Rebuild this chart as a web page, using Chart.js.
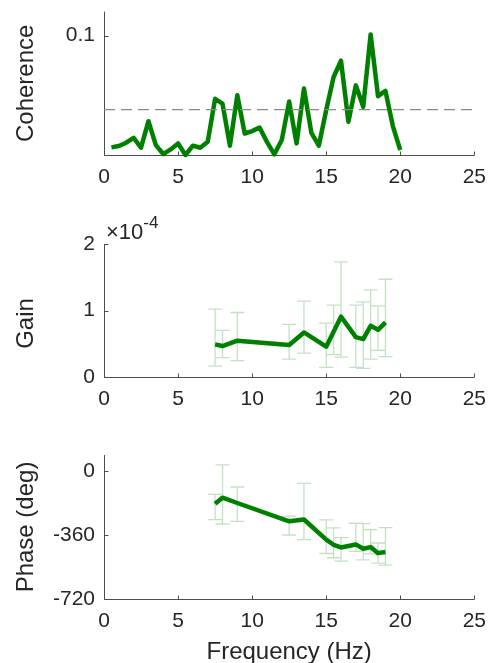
<!DOCTYPE html>
<html><head><meta charset="utf-8">
<script src="https://cdn.jsdelivr.net/npm/chart.js@4"></script>
<style>
html,body{margin:0;padding:0;background:#fff;width:496px;height:663px;overflow:hidden;position:relative}
canvas{position:absolute;left:0}
</style></head><body>
<canvas id="c1" width="496" height="210" style="top:-10px"></canvas>
<canvas id="c2" width="496" height="220" style="top:200px"></canvas>
<canvas id="c3" width="496" height="247" style="top:420px"></canvas>
<script>
// ---------- data ----------
const freqAll = [0.5,1,1.5,2,2.5,3,3.5,4,4.5,5,5.5,6,6.5,7,7.5,8,8.5,9,9.5,10,
                 10.5,11,11.5,12,12.5,13,13.5,14,14.5,15,15.5,16,16.5,17,17.5,18,18.5,19,19.5,20];
const coherence = [0.0064,0.0075,0.0103,0.0144,0.0061,0.0283,0.0083,0.0008,0.0047,0.0097,
                   0.0000,0.0078,0.0061,0.0110,0.0470,0.0430,0.0078,0.0500,0.0180,0.0200,
                   0.0230,0.0110,0.0006,0.0125,0.0447,0.0097,0.0556,0.0186,0.0078,0.0375,
                   0.0653,0.0789,0.0278,0.0583,0.0403,0.1008,0.0492,0.0536,0.0242,0.0042];
const coherenceThreshold = 0.038;

const freqSig   = [7.5, 8, 9, 12.5, 13.5, 15, 15.5, 16, 17, 17.5, 18, 18.5, 19];
const gain      = [0.49e-4,0.466e-4,0.546e-4,0.48e-4,0.67e-4,0.456e-4,0.68e-4,0.907e-4,0.60e-4,0.57e-4,0.77e-4,0.71e-4,0.82e-4];
const gainLower = [0.165e-4,0.29e-4,0.245e-4,0.27e-4,0.36e-4,0.145e-4,0.335e-4,0.30e-4,0.145e-4,0.13e-4,0.27e-4,0.40e-4,0.305e-4];
const gainUpper = [1.02e-4,0.70e-4,0.97e-4,0.79e-4,1.14e-4,0.81e-4,1.08e-4,1.73e-4,1.08e-4,1.13e-4,1.31e-4,1.07e-4,1.47e-4];
const phase      = [-184,-150,-180,-283,-273,-386,-415,-430,-413,-437,-428,-462,-456];
const phaseLower = [-273,-298,-283,-360,-386,-464,-488,-507,-452,-500,-466,-518,-530];
const phaseUpper = [-132,34,-90,-254,-70,-275,-320,-375,-294,-296,-330,-405,-318];

const xTicks = [0,5,10,15,20,25];
const coherenceTicks = [0.1];
const gainTicks = [0,1e-4,2e-4];
const phaseTicks = [-720,-360,0];

// ---------- style ----------
const FONT = "'Liberation Sans', Arial, sans-serif";
const TEXT = '#262626';
const AXIS = '#4d4d4d';
const GREEN = '#008000';
const ERR = 'rgba(0,128,0,0.24)';
const LABEL_SIZE = 24;
const TICK_SIZE = 21;

function axesPlugin(err){
  return {
    id:'matlabAxes',
    beforeDatasetsDraw(chart){
      const {ctx, chartArea:a, scales:{x,y}} = chart;
      ctx.save();
      ctx.strokeStyle = AXIS; ctx.lineWidth = 1;
      ctx.beginPath();
      const L = Math.round(a.left)+0.5, B = Math.round(a.bottom)+0.5;
      ctx.moveTo(L, a.top); ctx.lineTo(L, B); ctx.lineTo(a.right, B);
      x.ticks.forEach(t=>{const p=Math.round(x.getPixelForValue(t.value))+0.5; ctx.moveTo(p,B); ctx.lineTo(p,B-4);});
      y.ticks.forEach(t=>{const p=Math.round(y.getPixelForValue(t.value))+0.5; ctx.moveTo(L,p); ctx.lineTo(L+4,p);});
      ctx.stroke();
      if (err){
        ctx.strokeStyle = ERR; ctx.lineWidth = 1.3;
        ctx.beginPath();
        err.x.forEach((f,i)=>{
          const px = x.getPixelForValue(f);
          const y1 = y.getPixelForValue(err.lo[i]), y2 = y.getPixelForValue(err.hi[i]);
          ctx.moveTo(px,y1); ctx.lineTo(px,y2);
          ctx.moveTo(px-7,y1); ctx.lineTo(px+7,y1);
          ctx.moveTo(px-7,y2); ctx.lineTo(px+7,y2);
        });
        ctx.stroke();
      }
      ctx.restore();
    }
  };
}

const gainDecor = {
  id:'gainDecor',
  afterDraw(chart){
    const {ctx, chartArea:a} = chart;
    ctx.save();
    ctx.fillStyle = TEXT; ctx.textBaseline='alphabetic'; ctx.textAlign='left';
    ctx.font = "22px " + FONT;
    ctx.fillText('\u00d710', a.left+2, a.top-5);
    const w = ctx.measureText('\u00d710').width;
    ctx.font = "17px " + FONT;
    ctx.fillText('-4', a.left+2+w, a.top-16);
    // y label, placed as in the reference (slightly below the axis centre)
    ctx.translate(26, (a.top+a.bottom)/2 + 13);
    ctx.rotate(-Math.PI/2);
    ctx.textAlign='center'; ctx.textBaseline='middle';
    ctx.font = LABEL_SIZE + "px " + FONT;
    ctx.fillText('Gain', 0, 0);
    ctx.restore();
  }
};

function xScale(height, title){
  return {
    type:'linear', min:0, max:25,
    afterBuildTicks:s=>{s.ticks = xTicks.map(v=>({value:v}));},
    afterFit:s=>{s.height = height;},
    grid:{display:false, drawTicks:false}, border:{display:false},
    ticks:{padding:10, color:TEXT, font:{family:FONT,size:TICK_SIZE}, maxRotation:0, callback:v=>String(v)},
    title: title ? {display:true, text:title, color:TEXT, font:{family:FONT,size:LABEL_SIZE}, padding:{top:0,bottom:0}} : {display:false}
  };
}
function yScale(min,max,ticks,fmt,title){
  return {
    type:'linear', min, max,
    afterBuildTicks:s=>{s.ticks = ticks.map(v=>({value:v}));},
    afterFit:s=>{s.width = 104;},
    grid:{display:false, drawTicks:false}, border:{display:false},
    ticks:{padding:9, color:TEXT, font:{family:FONT,size:TICK_SIZE}, callback:fmt},
    title: title ? {display:true, text:title, color:TEXT, font:{family:FONT,size:LABEL_SIZE}, padding:{top:12,bottom:0}} : {display:false}
  };
}
const common = {responsive:false, animation:false, devicePixelRatio:1, events:[],
  plugins:{legend:{display:false}, tooltip:{enabled:false}}};

// Panel 1: coherence
new Chart(document.getElementById('c1'), {
  type:'line',
  data:{datasets:[
    {data:[{x:0,y:coherenceThreshold},{x:25,y:coherenceThreshold}], borderColor:'#8a8a8a', borderWidth:1.3,
     borderDash:[11,6], pointRadius:0, order:0, clip:false},
    {data:freqAll.map((f,i)=>({x:f,y:coherence[i]})), borderColor:GREEN, borderWidth:4.5, pointRadius:0,
     tension:0, borderJoinStyle:'round', order:1, clip:false}
  ]},
  options:{...common, layout:{padding:{top:10,right:17,left:0,bottom:0}},
    scales:{x:xScale(45), y:yScale(0,0.12,coherenceTicks,v=>String(v),'Coherence')}},
  plugins:[axesPlugin(null)]
});

// Panel 2: gain
new Chart(document.getElementById('c2'), {
  type:'line',
  data:{datasets:[
    {data:freqSig.map((f,i)=>({x:f,y:gain[i]})), borderColor:GREEN, borderWidth:4.5, pointRadius:0,
     tension:0, borderJoinStyle:'round', clip:false}
  ]},
  options:{...common, layout:{padding:{top:44,right:17,left:0,bottom:0}},
    scales:{x:xScale(43), y:yScale(0,2e-4,gainTicks,v=>String(Math.round(v*1e4)),null)}},
  plugins:[axesPlugin({x:freqSig, lo:gainLower, hi:gainUpper}), gainDecor]
});

// Panel 3: phase
new Chart(document.getElementById('c3'), {
  type:'line',
  data:{datasets:[
    {data:freqSig.map((f,i)=>({x:f,y:phase[i]})), borderColor:GREEN, borderWidth:4.5, pointRadius:0,
     tension:0, borderJoinStyle:'round', clip:false}
  ]},
  options:{...common, layout:{padding:{top:35,right:17,left:0,bottom:0}},
    scales:{x:xScale(68,'Frequency (Hz)'), y:yScale(-720,90,phaseTicks,v=>String(v),'Phase (deg)')}},
  plugins:[axesPlugin({x:freqSig, lo:phaseLower, hi:phaseUpper})]
});
</script>
</body></html>
